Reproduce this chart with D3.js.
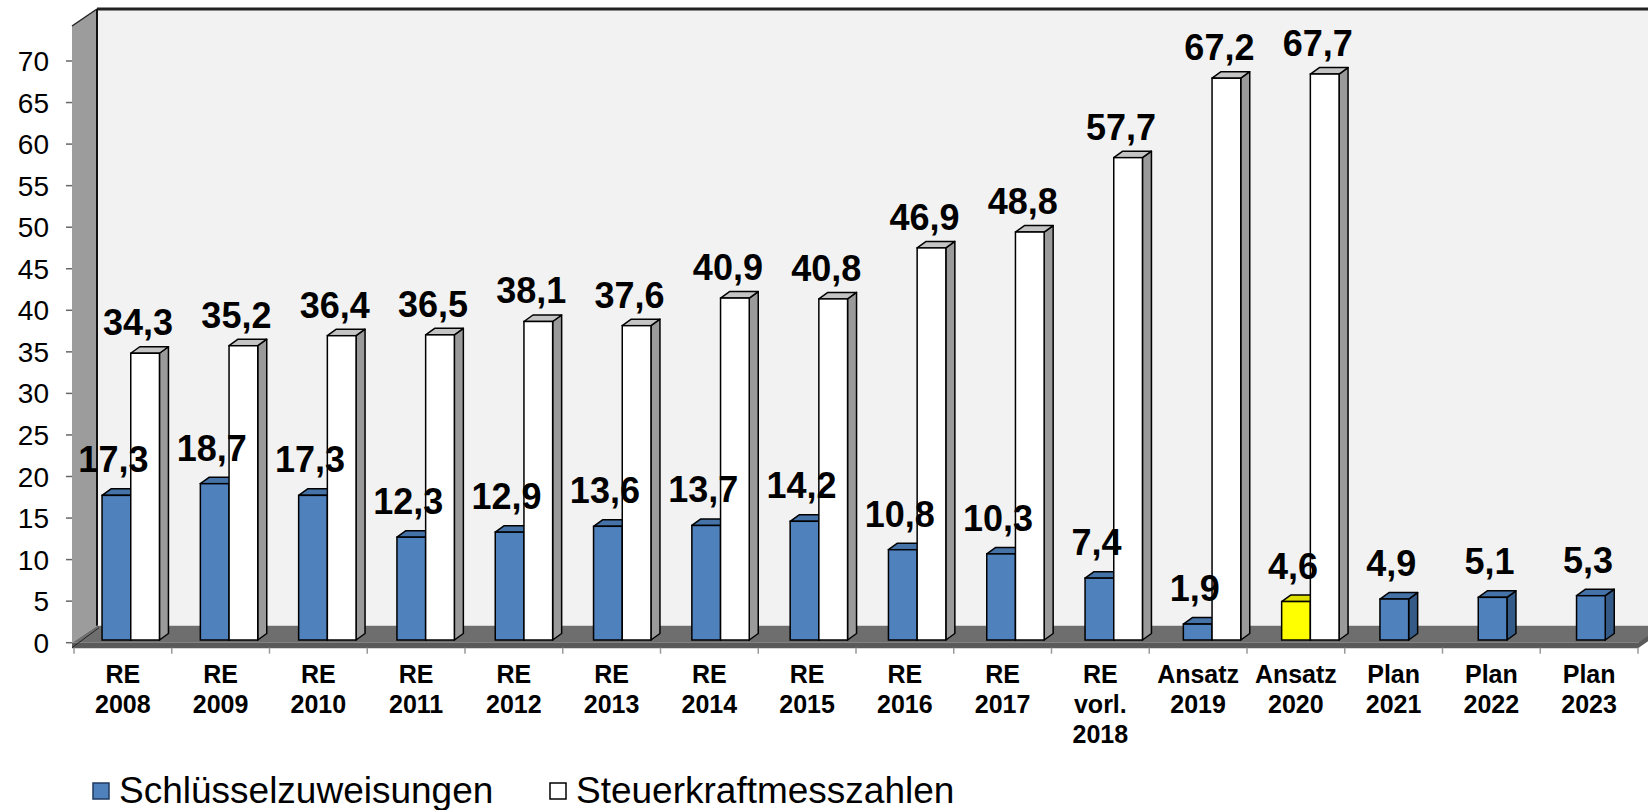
<!DOCTYPE html>
<html>
<head>
<meta charset="utf-8">
<script src="https://cdn.jsdelivr.net/npm/d3@7"></script>
<style>
  body { margin: 0; background: #fff; }
  text { font-family: "Liberation Sans", Arial, sans-serif; }
</style>
</head>
<body>
<div id="chart"></div>
<script>
// Data
var categories = ["RE 2008", "RE 2009", "RE 2010", "RE 2011", "RE 2012", "RE 2013", "RE 2014", "RE 2015",
  "RE 2016", "RE 2017", "RE vorl. 2018", "Ansatz 2019", "Ansatz 2020", "Plan 2021", "Plan 2022", "Plan 2023"];
var categoryLines = [["RE", "2008"], ["RE", "2009"], ["RE", "2010"], ["RE", "2011"], ["RE", "2012"], ["RE", "2013"],
  ["RE", "2014"], ["RE", "2015"], ["RE", "2016"], ["RE", "2017"], ["RE", "vorl.", "2018"], ["Ansatz", "2019"],
  ["Ansatz", "2020"], ["Plan", "2021"], ["Plan", "2022"], ["Plan", "2023"]];
var schluessel = [17.3, 18.7, 17.3, 12.3, 12.9, 13.6, 13.7, 14.2, 10.8, 10.3, 7.4, 1.9, 4.6, 4.9, 5.1, 5.3];
var steuerkraft = [34.3, 35.2, 36.4, 36.5, 38.1, 37.6, 40.9, 40.8, 46.9, 48.8, 57.7, 67.2, 67.7, null, null, null];
var highlighted = ["Ansatz 2020"];
var seriesNames = ["Schlüsselzuweisungen", "Steuerkraftmesszahlen"];
var yTicks = d3.range(0, 71, 5);

// SVG area
var svgWidth = 1648;
var svgHeight = 810;

var svg = d3.select("#chart")
  .append("svg")
  .attr("width", svgWidth)
  .attr("height", svgHeight);

// 3D depth of the walls and of the bars
var wallDx = 25, wallDy = -17;
var barDx = 9, barDy = -6.5;

// front axis plane
var axisLeft = 74, axisRight = 1638;
var axisBase = 642.7;

var xAxisScale = d3.scaleBand()
  .domain(categories)
  .range([axisLeft, axisRight]);

var yAxisScale = d3.scaleLinear()
  .domain([0, 70])
  .range([axisBase, 61]);

// bars sit a little further back than the axis plane
var barStep = 98.3;
var pairWidth = 57.4;
var pad = 1 - pairWidth / barStep;
var xBar = d3.scaleBand()
  .domain(categories)
  .range([81.6, 81.6 + barStep * categories.length])
  .paddingInner(pad)
  .paddingOuter(pad / 2);

var xSeries = d3.scaleBand()
  .domain(seriesNames)
  .range([0, xBar.bandwidth()]);

var yBar = d3.scaleLinear()
  .domain([0, 70])
  .range([640, 640 - 70 * 8.36]);

var fmt = function(v) { return d3.format(".1f")(v).replace(".", ","); };

// ---- walls ----
var wallTop = 9;
var floorBack = axisBase + wallDy;

// back wall
svg.append("rect")
  .attr("x", axisLeft + wallDx - 2)
  .attr("y", wallTop)
  .attr("width", svgWidth)
  .attr("height", floorBack - wallTop)
  .attr("fill", "#f2f2f2");

// left side wall
svg.append("path")
  .attr("d", d3.line()([[axisLeft - 2, wallTop - wallDy], [axisLeft + wallDx - 2, wallTop],
    [axisLeft + wallDx - 2, floorBack], [axisLeft - 2, axisBase]]) + "Z")
  .attr("fill", "#9c9c9c");

svg.append("line")
  .attr("x1", axisLeft - 2).attr("y1", wallTop - wallDy)
  .attr("x2", axisLeft + wallDx - 2).attr("y2", wallTop)
  .attr("stroke", "#222").attr("stroke-width", 1.5);

svg.append("line")
  .attr("x1", axisLeft + wallDx - 2).attr("y1", wallTop)
  .attr("x2", svgWidth).attr("y2", wallTop)
  .attr("stroke", "#222").attr("stroke-width", 3);

svg.append("line")
  .attr("x1", axisLeft + wallDx - 2).attr("y1", wallTop)
  .attr("x2", axisLeft + wallDx - 2).attr("y2", floorBack)
  .attr("stroke", "#111").attr("stroke-width", 2);

// floor
svg.append("path")
  .attr("d", d3.line()([[axisLeft - 2, axisBase], [axisLeft + wallDx - 2, floorBack],
    [axisRight + wallDx + 10, floorBack], [axisRight, axisBase]]) + "Z")
  .attr("fill", "#6e6e6e");

svg.append("path")
  .attr("d", d3.line()([[axisLeft - 2, axisBase], [axisRight, axisBase], [axisRight + wallDx, floorBack],
    [axisRight + wallDx, floorBack + 5], [axisRight, axisBase + 5.5], [axisLeft - 2, axisBase + 5.5]]) + "Z")
  .attr("fill", "#5a5a5a");

svg.append("line")
  .attr("x1", axisLeft - 2).attr("y1", axisBase + 5)
  .attr("x2", axisLeft + wallDx).attr("y2", floorBack + 2)
  .attr("stroke", "#222").attr("stroke-width", 1);

// x tick marks
svg.append("g")
  .selectAll("line")
  .data(d3.range(categories.length + 1))
  .enter()
  .append("line")
  .attr("x1", d => axisLeft + d * xAxisScale.step())
  .attr("x2", d => axisLeft + d * xAxisScale.step())
  .attr("y1", axisBase + 5)
  .attr("y2", axisBase + 11)
  .attr("stroke", "#999")
  .attr("stroke-width", 1.5);

// y axis ticks and labels
var yAxisG = svg.append("g");
yAxisG.selectAll("line")
  .data(yTicks)
  .enter()
  .append("line")
  .attr("x1", 66).attr("x2", 72)
  .attr("y1", d => yAxisScale(d)).attr("y2", d => yAxisScale(d))
  .attr("stroke", "#666").attr("stroke-width", 1.5);

yAxisG.selectAll("text")
  .data(yTicks)
  .enter()
  .append("text")
  .attr("x", 49)
  .attr("y", d => yAxisScale(d))
  .attr("dy", "0.36em")
  .attr("text-anchor", "end")
  .attr("font-size", "28px")
  .attr("fill", "#000")
  .text(d => d);

// ---- bars ----
function bar3d(g, x, w, v, colors) {
  var top = yBar(v), base = yBar(0);
  g.append("path")
    .attr("d", d3.line()([[x + w, top], [x + w + barDx, top + barDy], [x + w + barDx, base + barDy], [x + w, base]]) + "Z")
    .attr("fill", colors.side).attr("stroke", "#000").attr("stroke-width", 1.5).attr("stroke-linejoin", "round");
  g.append("path")
    .attr("d", d3.line()([[x, top], [x + barDx, top + barDy], [x + w + barDx, top + barDy], [x + w, top]]) + "Z")
    .attr("fill", colors.top).attr("stroke", "#000").attr("stroke-width", 1.5).attr("stroke-linejoin", "round");
  g.append("rect")
    .attr("x", x).attr("y", top).attr("width", w).attr("height", base - top)
    .attr("fill", colors.front).attr("stroke", "#000").attr("stroke-width", 1.5);
}

var blueColors = { front: "#4f81bd", side: "#345a88", top: "#4572a7" };
var yellowColors = { front: "#ffff00", side: "#b8b800", top: "#e0e000" };
var whiteColors = { front: "#ffffff", side: "#9a9a9a", top: "#c4c4c4" };

var barsG = svg.append("g");
categories.forEach(function(cat, i) {
  var g = barsG.append("g");
  var bx = xBar(cat) + xSeries(seriesNames[0]);
  var colors = highlighted.indexOf(cat) >= 0 ? yellowColors : blueColors;
  bar3d(g, bx, xSeries.bandwidth(), schluessel[i], colors);
  if (steuerkraft[i] != null) {
    var wx = xBar(cat) + xSeries(seriesNames[1]);
    bar3d(g, wx, xSeries.bandwidth(), steuerkraft[i], whiteColors);
  }
});

// value labels
var labelsG = svg.append("g")
  .attr("font-size", "36px")
  .attr("font-weight", "bold")
  .attr("text-anchor", "middle")
  .attr("fill", "#000");

categories.forEach(function(cat, i) {
  labelsG.append("text")
    .attr("x", xBar(cat) + xSeries(seriesNames[0]) + xSeries.bandwidth() / 2 - 3)
    .attr("y", yBar(schluessel[i]) - 23)
    .text(fmt(schluessel[i]));
  if (steuerkraft[i] != null) {
    labelsG.append("text")
      .attr("x", xBar(cat) + xSeries(seriesNames[1]) + xSeries.bandwidth() / 2 - 7)
      .attr("y", yBar(steuerkraft[i]) - 18)
      .text(fmt(steuerkraft[i]));
  }
});

// category labels
var catG = svg.append("g")
  .attr("font-size", "25px")
  .attr("font-weight", "bold")
  .attr("text-anchor", "middle")
  .attr("fill", "#000");

categories.forEach(function(cat, i) {
  var t = catG.append("text")
    .attr("x", xAxisScale(cat) + xAxisScale.bandwidth() / 2)
    .attr("y", 683);
  categoryLines[i].forEach(function(line, j) {
    t.append("tspan")
      .attr("x", xAxisScale(cat) + xAxisScale.bandwidth() / 2)
      .attr("dy", j === 0 ? 0 : 30)
      .text(line);
  });
});

// legend
var legend = svg.append("g");
var legendItems = [
  { name: seriesNames[0], fill: "#4f81bd", stroke: "#1f3a60", x: 93 },
  { name: seriesNames[1], fill: "#ffffff", stroke: "#000", x: 550 }
];
legendItems.forEach(function(d) {
  legend.append("rect")
    .attr("x", d.x).attr("y", 783).attr("width", 16).attr("height", 16)
    .attr("fill", d.fill).attr("stroke", d.stroke).attr("stroke-width", 1.5);
  legend.append("text")
    .attr("x", d.x + 26).attr("y", 803)
    .attr("font-size", "37px")
    .attr("fill", "#000")
    .text(d.name);
});
</script>
</body>
</html>
